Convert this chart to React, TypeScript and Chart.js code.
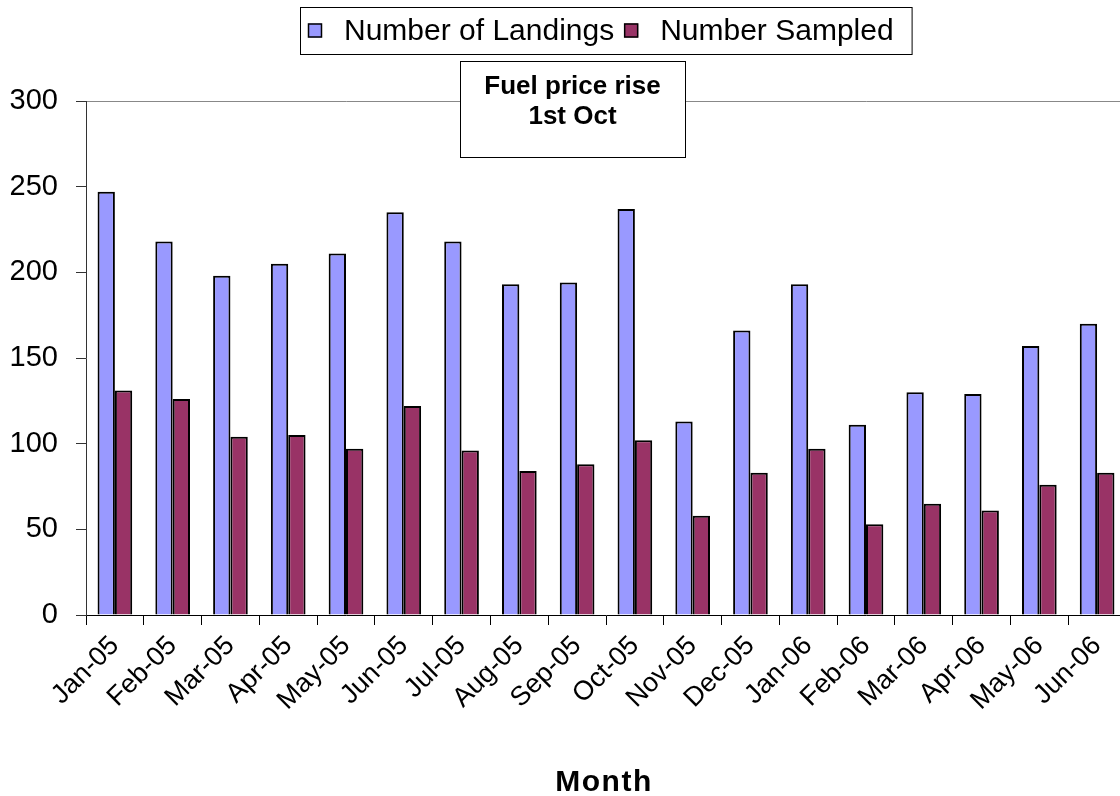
import React, { useEffect, useRef } from "react";
import { Chart, registerables } from "chart.js";

Chart.register(...registerables);

const MONTHS = ["Jan-05", "Feb-05", "Mar-05", "Apr-05", "May-05", "Jun-05", "Jul-05", "Aug-05", "Sep-05", "Oct-05", "Nov-05", "Dec-05", "Jan-06", "Feb-06", "Mar-06", "Apr-06", "May-06", "Jun-06"];
const LANDINGS = [247, 218, 198, 205, 211, 235, 218, 193, 194, 237, 113, 166, 193, 111, 130, 129, 157, 170];
const SAMPLED = [131, 126, 104, 105, 97, 122, 96, 84, 88, 102, 58, 83, 97, 53, 65, 61, 76, 83];
const SERIES_LABELS = ["Number of Landings", "Number Sampled"];
const Y_MIN = 0;
const Y_MAX = 300;
const Y_STEP = 50;
const NOTE_LINES = ["Fuel price rise", "1st Oct"];
const X_TITLE = "Month";

const FONT = "'Liberation Sans', Arial, sans-serif";
const BLUE = "#9999FF";
const PLUM = "#993366";

const overlayPlugin = {
  id: "overlay",
  afterDraw(chart: any) {
    const ctx = chart.ctx as CanvasRenderingContext2D;
    ctx.save();

    // annotation box
    const bx = 460, by = 61, bw = 225, bh = 96;
    ctx.fillStyle = "#ffffff";
    ctx.fillRect(bx, by, bw, bh);
    ctx.strokeStyle = "#000000";
    ctx.lineWidth = 1;
    ctx.strokeRect(bx + 0.5, by + 0.5, bw, bh);
    ctx.fillStyle = "#000000";
    ctx.font = `bold 26px ${FONT}`;
    ctx.textAlign = "center";
    ctx.textBaseline = "middle";
    NOTE_LINES.forEach((line, i) => {
      ctx.fillText(line, bx + bw / 2, 87 + i * 30);
    });

    // legend
    ctx.font = `30px ${FONT}`;
    const ds = chart.data.datasets;
    const sq = 14, gap = 22, spacing = 10, padL = 8, padR = 18;
    const widths = ds.map((d: any) => ctx.measureText(d.label).width);
    const total = padL + padR + ds.length * (sq + gap) + widths.reduce((a: number, b: number) => a + b, 0) + spacing * (ds.length - 1);
    const lx = Math.round(606 - total / 2);
    const ly = 7, lh = 47;
    ctx.strokeStyle = "#000000";
    ctx.strokeRect(lx + 0.5, ly + 0.5, total, lh);
    let x = lx + padL;
    const cy = ly + lh / 2;
    ds.forEach((d: any, i: number) => {
      ctx.fillStyle = d.backgroundColor;
      ctx.fillRect(x, cy - sq / 2, sq, sq);
      ctx.strokeStyle = "#000000";
      ctx.lineWidth = 1.5;
      ctx.strokeRect(x + 0.5, cy - sq / 2 + 0.5, sq - 1, sq - 1);
      x += sq + gap;
      ctx.fillStyle = "#000000";
      ctx.textAlign = "left";
      ctx.textBaseline = "middle";
      ctx.fillText(d.label, x, cy + 1);
      x += widths[i] + spacing;
    });

    // x-axis title
    ctx.font = `bold 30px ${FONT}`;
    ctx.textAlign = "center";
    ctx.textBaseline = "middle";
    ctx.fillStyle = "#000000";
    (ctx as any).letterSpacing = "1.5px";
    ctx.fillText(X_TITLE, 604, 783);
    ctx.restore();
  },
};

export default function App() {
  const ref = useRef<HTMLCanvasElement | null>(null);
  useEffect(() => {
    if (!ref.current) return;
    const chart = new Chart(ref.current, {
      type: "bar",
      data: {
        labels: MONTHS,
        datasets: [
          {
            label: SERIES_LABELS[0],
            data: LANDINGS,
            backgroundColor: BLUE,
            borderColor: "#000000",
            borderWidth: 2,
            barPercentage: 1,
            categoryPercentage: 0.6,
          },
          {
            label: SERIES_LABELS[1],
            data: SAMPLED,
            backgroundColor: PLUM,
            borderColor: "#000000",
            borderWidth: 2,
            barPercentage: 1,
            categoryPercentage: 0.6,
          },
        ],
      },
      options: {
        responsive: false,
        animation: false,
        layout: { padding: { top: 101, left: 0, right: 0, bottom: 0 } },
        plugins: {
          legend: { display: false },
          tooltip: { enabled: false },
        },
        scales: {
          x: {
            offset: true,
            border: { color: "#000000", width: 1 },
            grid: {
              offset: true,
              drawOnChartArea: false,
              drawTicks: true,
              tickLength: 10,
              color: "#000000",
            },
            ticks: {
              minRotation: 45,
              maxRotation: 45,
              autoSkip: false,
              color: "#000000",
              padding: 5,
              font: { family: FONT, size: 27 },
            },
            afterFit: (s: any) => {
              s.height = 181;
            },
          },
          y: {
            min: Y_MIN,
            max: Y_MAX,
            border: { color: "#333333", width: 1 },
            grid: {
              drawTicks: true,
              tickLength: 10,
              color: (c: any) => (c.tick && c.tick.value === Y_MAX ? "#888888" : "rgba(0,0,0,0)"),
              tickColor: "#333333",
            },
            ticks: {
              stepSize: Y_STEP,
              color: "#000000",
              padding: 18,
              font: { family: FONT, size: 29 },
            },
            afterFit: (s: any) => {
              s.width = 86;
            },
          },
        },
      },
      plugins: [overlayPlugin],
    });
    return () => chart.destroy();
  }, []);

  return (
    <div style={{ position: "absolute", left: 0, top: 0, width: 1120, height: 796, overflow: "hidden", background: "#ffffff" }}>
      <canvas ref={ref} width={1126} height={796} style={{ display: "block" }} />
    </div>
  );
}
